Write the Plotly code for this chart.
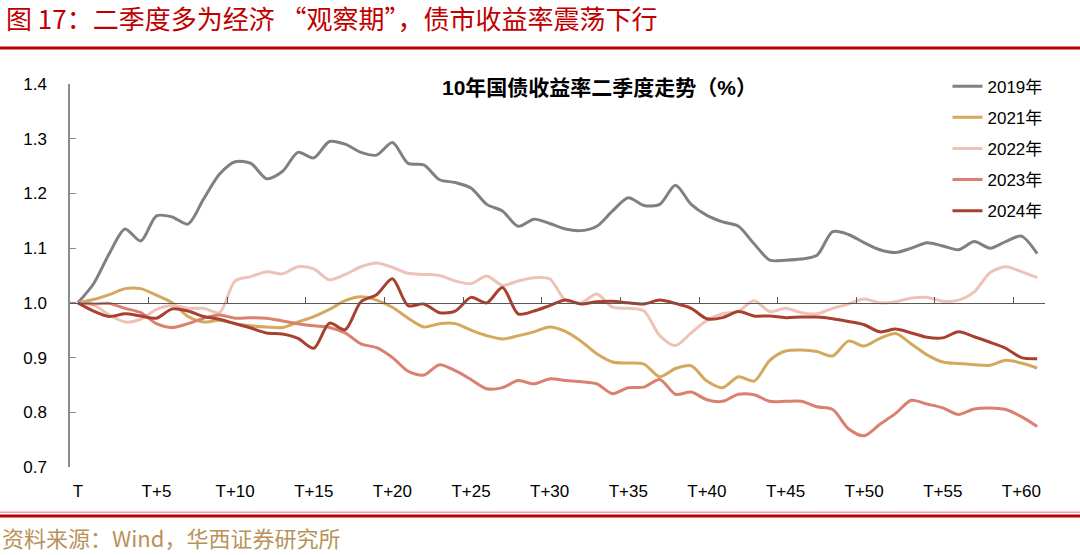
import plotly.graph_objects as go

# days after T (T, T+1, ... T+61)
days = list(range(62))
tick_days = list(range(0, 61, 5))
tick_text = ["T"] + ["T+%d" % d for d in tick_days[1:]]

y2019 = [1.0, 1.035, 1.09, 1.135, 1.113, 1.159, 1.157, 1.144, 1.19, 1.235,
         1.258, 1.255, 1.227, 1.24, 1.275, 1.265, 1.295, 1.29, 1.275, 1.27,
         1.293, 1.255, 1.252, 1.225, 1.22, 1.21, 1.18, 1.168, 1.14, 1.153,
         1.145, 1.135, 1.132, 1.14, 1.168, 1.192, 1.178, 1.18, 1.215, 1.18,
         1.16, 1.148, 1.14, 1.108, 1.078, 1.078, 1.08, 1.087, 1.13, 1.125,
         1.11, 1.097, 1.092, 1.1, 1.11, 1.104, 1.097, 1.112, 1.1, 1.112,
         1.122, 1.09]
y2021 = [1.0, 1.006, 1.015, 1.026, 1.026, 1.014, 1.0, 0.975, 0.965, 0.968,
         0.962, 0.958, 0.956, 0.955, 0.965, 0.975, 0.988, 1.004, 1.011, 1.005,
         0.992, 0.972, 0.956, 0.962, 0.962, 0.95, 0.94, 0.934, 0.94, 0.947,
         0.956, 0.948, 0.93, 0.907, 0.892, 0.89, 0.888, 0.865, 0.88, 0.885,
         0.857, 0.845, 0.865, 0.857, 0.895, 0.912, 0.914, 0.911, 0.903, 0.93,
         0.921, 0.935, 0.944, 0.925, 0.905, 0.892, 0.889, 0.887, 0.886, 0.895,
         0.89, 0.881]
y2022 = [1.0, 0.996, 0.978, 0.965, 0.97, 0.988, 0.995, 0.99, 0.99, 0.982,
         1.04, 1.048, 1.057, 1.053, 1.066, 1.062, 1.042, 1.052, 1.066, 1.073,
         1.065, 1.054, 1.052, 1.05, 1.04, 1.035, 1.049, 1.032, 1.04, 1.046,
         1.044, 1.005, 1.0, 1.016, 0.992, 0.99, 0.985, 0.94, 0.922, 0.945,
         0.968, 0.98, 0.985, 1.004, 0.984, 0.99, 0.982, 0.98, 0.99, 0.998,
         1.007, 1.0, 1.002, 1.009, 1.01, 1.003, 1.005, 1.02, 1.055, 1.066,
         1.057, 1.046]
y2023 = [1.0, 0.998, 0.999, 0.99, 0.982, 0.962, 0.955, 0.962, 0.972, 0.978,
         0.972, 0.973, 0.972, 0.967, 0.962, 0.958, 0.955, 0.945, 0.925, 0.918,
         0.9, 0.875, 0.868, 0.887, 0.876, 0.86, 0.843, 0.845, 0.858, 0.852,
         0.861, 0.858, 0.856, 0.852, 0.834, 0.845, 0.846, 0.86, 0.833, 0.837,
         0.823, 0.82, 0.833, 0.832, 0.82, 0.82, 0.82, 0.81, 0.805, 0.77,
         0.757, 0.778, 0.798, 0.822, 0.815, 0.808, 0.796, 0.806, 0.808, 0.805,
         0.792, 0.774]
y2024 = [1.0, 0.985, 0.975, 0.98, 0.976, 0.972, 0.989, 0.985, 0.975, 0.97,
         0.962, 0.954, 0.945, 0.943, 0.935, 0.917, 0.963, 0.951, 1.002, 1.015,
         1.044, 0.995, 0.998, 0.982, 0.985, 1.01, 1.0, 1.028, 0.98, 0.985,
         0.995, 1.005, 0.998, 1.002, 1.003, 1.0, 0.998, 1.005, 0.999, 0.99,
         0.971, 0.973, 0.984, 0.976, 0.976, 0.973, 0.974, 0.974, 0.971, 0.966,
         0.96, 0.947, 0.952, 0.945, 0.937, 0.936, 0.947, 0.938, 0.928, 0.917,
         0.9, 0.898]

series = [
    ("2019年", y2019, "#808080"),
    ("2021年", y2021, "#D4A95E"),
    ("2022年", y2022, "#EDC2B7"),
    ("2023年", y2023, "#D9806F"),
    ("2024年", y2024, "#A9402F"),
]

RED = "#C00000"
fig = go.Figure()
for name, ys, col in series:
    fig.add_trace(go.Scatter(
        x=days, y=ys, name=name, mode="lines", legendgroup=name,
        line=dict(color=col, width=3, shape="spline", smoothing=0.8),
        hoverinfo="x+y+name",
    ))
# empty trace so the axis line at 1.0 (xaxis2) gets drawn
fig.add_trace(go.Scatter(x=[], y=[], xaxis="x2", showlegend=False, hoverinfo="skip"))

fig.update_layout(
    width=1080, height=555,
    paper_bgcolor="white", plot_bgcolor="white",
    margin=dict(l=70, r=35, t=84, b=88),
    font=dict(family="Liberation Sans, Arial, Noto Sans CJK SC", size=17, color="#000"),
    showlegend=True,
    legend=dict(x=0.9, y=1.04, xanchor="left", yanchor="top",
                bgcolor="rgba(0,0,0,0)", traceorder="grouped", tracegroupgap=6,
                font=dict(size=17)),
    xaxis=dict(range=[-0.5, 61.5], tickvals=tick_days, ticktext=tick_text,
               showline=False, showgrid=False, zeroline=False, ticks="",
               ticklabelstandoff=12, tickfont=dict(size=17)),
    xaxis2=dict(overlaying="x", matches="x", anchor="free", position=3 / 7,
                side="bottom", showline=True, linecolor="#595959", linewidth=1.2,
                ticks="inside", ticklen=6, tickcolor="#595959",
                tickvals=[d - 0.5 for d in tick_days[1:]],
                showticklabels=False, showgrid=False, zeroline=False),
    yaxis=dict(range=[0.7, 1.4], dtick=0.1, tickformat=".1f",
               showline=True, linecolor="#8C8C8C", linewidth=1.5,
               ticks="inside", ticklen=6, tickcolor="#8C8C8C",
               showgrid=False, zeroline=False, ticklabelstandoff=18,
               tickfont=dict(size=17)),
    shapes=[
        dict(type="line", xref="paper", yref="paper", x0=-0.08, x1=1.04,
             y0=1.094, y1=1.094, line=dict(color=RED, width=3)),
        dict(type="line", xref="paper", yref="paper", x0=-0.08, x1=1.04,
             y0=-0.118, y1=-0.118, line=dict(color="#E9A3A3", width=1.5)),
        dict(type="line", xref="paper", yref="paper", x0=-0.08, x1=1.04,
             y0=-0.128, y1=-0.128, line=dict(color=RED, width=3)),
    ],
    annotations=[
        dict(text="图 17：二季度多为经济 “观察期”，债市收益率震荡下行",
             xref="paper", yref="paper", x=-0.068, y=1.12, xanchor="left", yanchor="bottom",
             showarrow=False, font=dict(family="Noto Sans CJK SC", size=26, color=RED)),
        dict(text="<b>10年国债收益率二季度走势（%）</b>",
             xref="paper", yref="paper", x=0.543, y=0.99, xanchor="center", yanchor="middle",
             showarrow=False, font=dict(family="Liberation Sans, Noto Sans CJK SC", size=21, color="#000")),
        dict(text="资料来源：Wind，华西证券研究所",
             xref="paper", yref="paper", x=-0.072, y=-0.183, xanchor="left", yanchor="middle",
             showarrow=False, font=dict(family="Noto Sans CJK SC", size=22, color="#B8925A")),
    ],
)

fig.write_html("out.html", config={"displayModeBar": False},
               post_script="document.body.style.margin='0';")
